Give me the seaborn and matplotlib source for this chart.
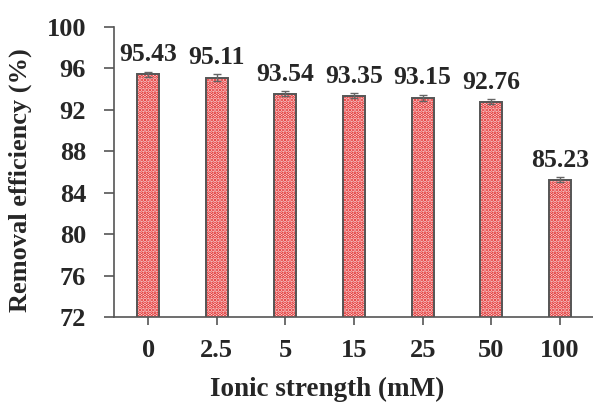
import pandas as pd
import matplotlib
matplotlib.use("Agg")
import matplotlib.pyplot as plt
import seaborn as sns

forca_ionica = ["0", "2.5", "5", "15", "25", "50", "100"]
eficiencia = [95.43, 95.11, 93.54, 93.35, 93.15, 92.76, 85.23]
erros = [0.25, 0.3, 0.25, 0.25, 0.3, 0.25, 0.25]
ticks_y = [72, 76, 80, 84, 88, 92, 96, 100]

dados = pd.DataFrame({"forca": forca_ionica, "eficiencia": eficiencia})

sns.set_style("ticks")
plt.rcParams["font.family"] = ["Liberation Serif", "DejaVu Serif"]
plt.rcParams["font.weight"] = "bold"
plt.rcParams["hatch.linewidth"] = 1.8

fig = plt.figure(figsize=(5.93, 4.03), dpi=100)
ax = fig.add_axes([0.192, 0.2134, 0.81, 0.72])

# preenchimento pontilhado vermelho
sns.barplot(data=dados, x="forca", y="eficiencia", ax=ax, color="#fdf0f0",
            edgecolor="#e01010", linewidth=0, hatch=".....", width=0.32,
            errorbar=None)
# contorno cinza
sns.barplot(data=dados, x="forca", y="eficiencia", ax=ax, fill=False,
            edgecolor="#555555", linewidth=1.4, width=0.32, errorbar=None)

ax.errorbar(range(len(eficiencia)), eficiencia, yerr=erros, fmt="none",
            ecolor="#666666", elinewidth=1, capsize=3, capthick=1)

for i, (v, e) in enumerate(zip(eficiencia, erros)):
    ax.annotate(f"{v:.2f}", (i, v + e), xytext=(0, 4), textcoords="offset points",
                ha="center", va="bottom", fontsize=18.5, fontweight="bold")

ax.set_ylim(72, 100)
ax.set_xlim(-0.5, 6.5)
ax.set_yticks(ticks_y)
ax.tick_params(axis="both", labelsize=19, direction="out", color="#555555",
               width=1.2)
ax.tick_params(axis="y", length=7, pad=13)
ax.tick_params(axis="x", length=6, pad=10)
for nome in ["top", "right"]:
    ax.spines[nome].set_visible(False)
for nome in ["left", "bottom"]:
    ax.spines[nome].set_color("#555555")
    ax.spines[nome].set_linewidth(1.2)

ax.set_ylabel("Removal efficiency (%)", fontsize=19, fontweight="bold")
ax.set_xlabel("Ionic strength (mM)", fontsize=19.5, fontweight="bold")
ax.yaxis.set_label_coords(-0.171, 0.472)
ax.xaxis.set_label_coords(0.444, -0.208)

fig.savefig("out.png", dpi=100)
